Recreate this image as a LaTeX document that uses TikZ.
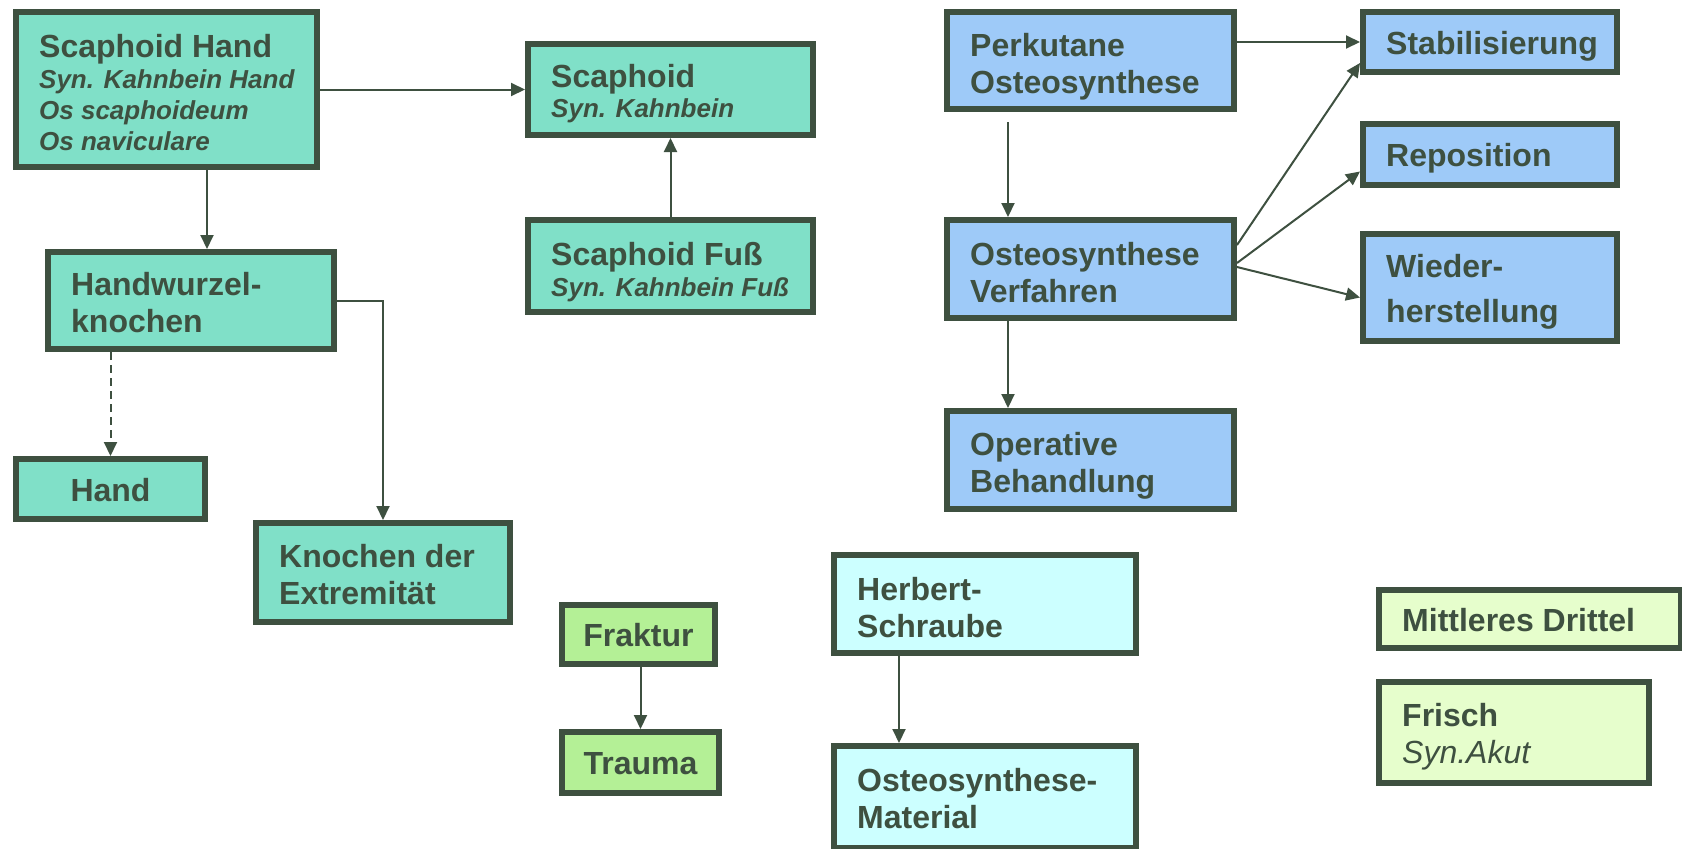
\documentclass[tikz,border=0pt]{standalone}
\usepackage{fontspec}
\setmainfont{Liberation Sans}
\usetikzlibrary{arrows.meta,calc}
\definecolor{ink}{RGB}{62,80,64}
\definecolor{cteal}{RGB}{128,224,200}
\definecolor{cblue}{RGB}{158,202,248}
\definecolor{ccyan}{RGB}{204,255,255}
\definecolor{cgreen}{RGB}{180,240,150}
\definecolor{cpale}{RGB}{230,254,204}
\begin{document}
\begin{tikzpicture}[x=1pt,y=-1pt,
  box/.style={draw=ink, line width=6pt, inner sep=0pt},
  tealbox/.style={box, fill=cteal},
  bluebox/.style={box, fill=cblue},
  cyanbox/.style={box, fill=ccyan},
  greenbox/.style={box, fill=cgreen},
  palebox/.style={box, fill=cpale},
  lbl/.style={text=ink, font=\bfseries\fontsize{32}{37}\selectfont, align=left, inner sep=0pt, anchor=west, yshift=-4pt},
  clbl/.style={text=ink, font=\bfseries\fontsize{32}{37}\selectfont, align=center, inner sep=0pt, yshift=-1pt},
  arr/.style={draw=ink, line width=2pt, -{Triangle[width=13pt,length=14pt]}}
]
\fill[white] (0,0) rectangle (1682,849);
\useasboundingbox (0,0) rectangle (1682,849);

% boxes
\node[tealbox, minimum width=301pt, minimum height=155pt] (SH) at (166.5,89.5) {};
\node[tealbox, minimum width=285pt, minimum height=91pt] (SC) at (670.5,89.5) {};
\node[tealbox, minimum width=286pt, minimum height=97pt] (HW) at (191,300.5) {};
\node[tealbox, minimum width=285pt, minimum height=92pt] (SF) at (670.5,266) {};
\node[tealbox, minimum width=189pt, minimum height=60pt] (HA) at (110.5,489) {};
\node[tealbox, minimum width=254pt, minimum height=99pt] (KN) at (383,572.5) {};
\node[greenbox, minimum width=153pt, minimum height=59pt] (FR) at (638.5,634.5) {};
\node[greenbox, minimum width=157pt, minimum height=61pt] (TR) at (640.5,762.5) {};
\node[cyanbox, minimum width=302pt, minimum height=98pt] (HS) at (985,604) {};
\node[cyanbox, minimum width=302pt, minimum height=102pt] (OM) at (985,797) {};
\node[bluebox, minimum width=287pt, minimum height=97pt] (PO) at (1090.5,60.5) {};
\node[bluebox, minimum width=287pt, minimum height=98pt] (OV) at (1090.5,269) {};
\node[bluebox, minimum width=287pt, minimum height=98pt] (OB) at (1090.5,460) {};
\node[bluebox, minimum width=254pt, minimum height=60pt] (ST) at (1490,42) {};
\node[bluebox, minimum width=254pt, minimum height=61pt] (RE) at (1490,154.5) {};
\node[bluebox, minimum width=254pt, minimum height=107pt] (WI) at (1490,287.5) {};
\node[palebox, minimum width=302pt, minimum height=58pt] (MD) at (1530,619) {};
\node[palebox, minimum width=270pt, minimum height=101pt] (FS) at (1514,732.5) {};

% texts
\node[lbl] (SHt) at ([xshift=26pt,yshift=1pt]SH.west) {Scaphoid Hand\\[-6pt]{\fontsize{26}{31}\selectfont\itshape Syn. Kahnbein Hand}\\[-6pt]{\fontsize{26}{31}\selectfont\itshape Os scaphoideum}\\[-6pt]{\fontsize{26}{31}\selectfont\itshape Os naviculare}};
\node[lbl] (SCt) at ([xshift=26pt]SC.west) {Scaphoid\\[-7pt]{\fontsize{26}{31}\selectfont\itshape Syn. Kahnbein}};
\node[lbl] (HWt) at ([xshift=26pt,yshift=2pt]HW.west) {Handwurzel-\\knochen};
\node[lbl] (SFt) at ([xshift=26pt,yshift=-2pt]SF.west) {Scaphoid Fuß\\[-5.5pt]{\fontsize{26}{31}\selectfont\itshape Syn. Kahnbein Fuß}};
\node[clbl] (HAt) at (HA.center) {Hand};
\node[lbl] (KNt) at ([xshift=26pt,yshift=2pt]KN.west) {Knochen der\\Extremität};
\node[clbl] (FRt) at (FR.center) {Fraktur};
\node[clbl] (TRt) at (TR.center) {Trauma};
\node[lbl] (HSt) at ([xshift=26pt]HS.west) {Herbert-\\Schraube};
\node[lbl] (OMt) at ([xshift=26pt,yshift=2pt]OM.west) {Osteosynthese-\\Material};
\node[lbl] (POt) at ([xshift=26pt,yshift=-2pt]PO.west) {Perkutane\\Osteosynthese};
\node[lbl] (OVt) at ([xshift=26pt]OV.west) {Osteosynthese\\Verfahren};
\node[lbl] (OBt) at ([xshift=26pt,yshift=-2pt]OB.west) {Operative\\Behandlung};
\node[lbl] (STt) at ([xshift=26pt]ST.west) {Stabilisierung};
\node[lbl] (REt) at ([xshift=26pt]RE.west) {Reposition};
\node[lbl] (WIt) at ([xshift=26pt]WI.west) {Wieder-\\[8pt]herstellung};
\node[lbl] (MDt) at ([xshift=26pt,yshift=3pt]MD.west) {Mittleres Drittel};
\node[lbl] (FSt) at ([xshift=26pt]FS.west) {Frisch\\{\mdseries\itshape Syn.Akut}};

% connectors
\coordinate (cA) at ([xshift=162pt]HW.north west);
\draw[arr] (SH.east |- SC.west) -- (SC.west);
\draw[arr] (SH.south -| cA) -- (cA);
\draw[arr, dash pattern=on 8pt off 5pt] (HW.south -| HA.north) -- (HA.north);
\draw[arr] (HW.east) -| (KN.north);
\draw[arr] (SF.north) -- (SC.south);
\draw[arr] (PO.east |- ST.west) -- (ST.west);
\draw[arr, shorten <=10pt] ([xshift=64pt]PO.south west) -- ([xshift=64pt]OV.north west);
\draw[arr] ([xshift=64pt]OV.south west) -- ([xshift=64pt]OB.north west);
\draw[arr] ([yshift=24pt]OV.east) -- ([yshift=12pt]ST.south west);
\draw[arr] ([yshift=6pt]OV.east) -- ([yshift=-17pt]RE.west);
\draw[arr] ([yshift=2pt]OV.east) -- ([yshift=-10pt]WI.west);
\draw[arr] (FR.south -| TR.north) -- (TR.north);
\draw[arr] ([xshift=68pt]HS.south west) -- ([xshift=68pt]OM.north west);
\end{tikzpicture}
\end{document}
